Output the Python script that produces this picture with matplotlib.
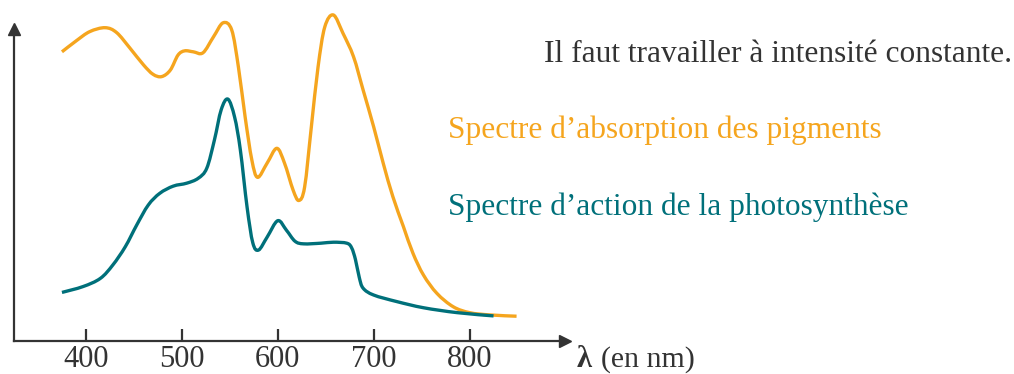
import matplotlib
matplotlib.use("Agg")
import matplotlib.pyplot as plt
from matplotlib.path import Path
from matplotlib.patches import PathPatch

# Wavelengths (nm) and relative values
abs_nm = [375, 390, 404, 420, 432, 446, 460, 470, 479, 488, 496, 503, 512, 522, 533, 543,
          552, 559, 566, 573, 579, 589, 599, 607, 616, 622, 628, 635, 642, 649, 658,
          668, 679, 689, 700, 710, 720, 731, 741, 752, 766, 783, 800, 821, 849]
abs_val = [88.7, 92.1, 94.9, 96.1, 94.6, 89.8, 84.7, 81.8, 81.1, 83.1, 87.7, 89.0, 88.7, 88.4,
           93.3, 97.6, 95.4, 84.0, 68.7, 55.5, 50.2, 54.6, 59.1, 54.6, 46.3, 43.1, 47.2, 65.6,
           84.0, 96.3, 100.0, 94.4, 87.2, 77.0, 65.7, 54.5, 44.3, 35.1, 26.9, 20.2, 14.6, 10.5,
           8.7, 8.0, 7.6]

act_nm = [375, 397, 415, 428, 441, 453, 465, 477, 491, 505, 517, 526, 534, 541, 548, 555,
          561, 568, 574, 580, 589, 600, 609, 618, 627, 645, 658, 672, 677, 681, 685, 689, 700,
          724, 752, 787, 825]
act_val = [14.9, 16.7, 19.2, 23.3, 28.9, 35.6, 41.7, 45.3, 47.5, 48.4, 49.9, 53.0, 61.7, 70.9,
           74.2, 68.7, 58.6, 41.1, 30.1, 27.9, 31.9, 36.9, 34.0, 30.6, 29.8, 30.0, 30.3, 30.0,
           28.6, 25.0, 19.5, 16.2, 14.1, 12.1, 10.2, 8.7, 7.7]

xticks = [400, 500, 600, 700, 800]
title_text = "Il faut travailler à intensité constante."
abs_label = "Spectre d\u2019absorption des pigments"
act_label = "Spectre d\u2019action de la photosynthèse"

ORANGE = "#F5A51E"
TEAL = "#00707A"
DARK = "#333333"


def smooth_path(xs, ys):
    """Catmull-Rom curve through the data points, as cubic Bezier segments."""
    pts = list(zip(xs, ys))
    n = len(pts)
    verts = [pts[0]]
    codes = [Path.MOVETO]
    for i in range(n - 1):
        p0 = pts[i - 1] if i > 0 else pts[i]
        p1 = pts[i]
        p2 = pts[i + 1]
        p3 = pts[i + 2] if i + 2 < n else pts[i + 1]
        c1 = (p1[0] + (p2[0] - p0[0]) / 6, p1[1] + (p2[1] - p0[1]) / 6)
        c2 = (p2[0] - (p3[0] - p1[0]) / 6, p2[1] - (p3[1] - p1[1]) / 6)
        verts += [c1, c2, p2]
        codes += [Path.CURVE4] * 3
    return Path(verts, codes)


W, H = 1014, 374
fig = plt.figure(figsize=(W / 100, H / 100), dpi=100)
plt.rcParams['font.family'] = ['Liberation Serif', 'DejaVu Serif']

ax = fig.add_axes([14 / W, 33 / H, (565 - 14) / W, (341 - 29) / H])
ax.set_xlim(325, 899.5)
ax.set_ylim(0, 95.7)
ax.patch.set_alpha(0)

for xs, ys, c in [(abs_nm, abs_val, ORANGE), (act_nm, act_val, TEAL)]:
    patch = PathPatch(smooth_path(xs, ys), facecolor='none', edgecolor=c, lw=2.4,
                      clip_on=False, joinstyle='round', capstyle='butt')
    ax.add_patch(patch)

for s in ['top', 'right']:
    ax.spines[s].set_visible(False)
for s in ['left', 'bottom']:
    ax.spines[s].set_color(DARK)
    ax.spines[s].set_linewidth(1.6)

# arrow heads
ax.plot([1], [0], marker='>', transform=ax.transAxes, color=DARK, ms=9, clip_on=False)
ax.plot([0], [1], marker='^', transform=ax.transAxes, color=DARK, ms=9, clip_on=False)

ax.set_yticks([])
ax.set_xticks(xticks)
ax.set_xticklabels([str(t) for t in xticks])
ax.tick_params(axis='x', direction='in', length=8.6, width=1.6, color=DARK,
               labelcolor=DARK, labelsize=22, pad=3)

FS = 22.6
fig.text(544 / W, 1 - 62 / H, title_text, color=DARK, fontsize=FS, va='baseline', ha='left')
fig.text(448 / W, 1 - 138 / H, abs_label, color=ORANGE, fontsize=FS, va='baseline', ha='left')
fig.text(448 / W, 1 - 215 / H, act_label, color=TEAL, fontsize=FS, va='baseline', ha='left')
fig.text(577 / W, 1 - 367 / H, "λ", color=DARK, fontsize=22, fontweight='bold',
         va='baseline', ha='left')
fig.text(601 / W, 1 - 367 / H, "(en nm)", color=DARK, fontsize=21.5, va='baseline', ha='left')

fig.savefig("out.png", dpi=100)
